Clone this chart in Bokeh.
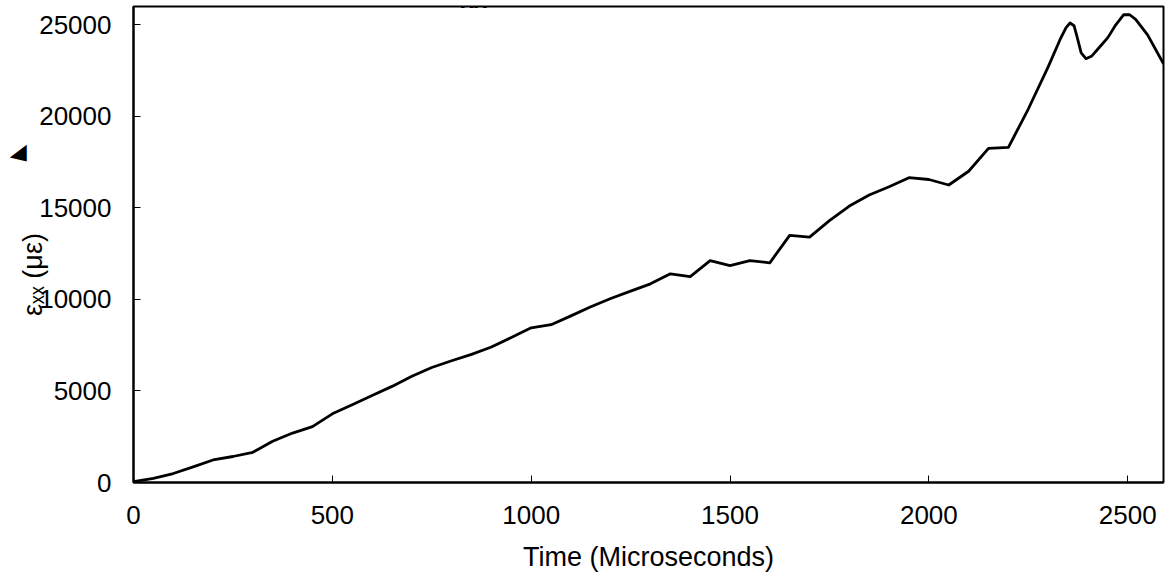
import math
from bokeh.plotting import figure
from bokeh.models import Range1d, FixedTicker, Label, LinearAxis
from bokeh.embed import file_html
from bokeh.resources import INLINE

time_us = [0, 50, 100, 150, 200, 250, 300, 350, 400, 450, 500, 550, 600, 650, 700,
           750, 800, 850, 900, 950, 1000, 1050, 1100, 1150, 1200, 1250, 1300, 1350,
           1400, 1450, 1500, 1550, 1600, 1650, 1700, 1750, 1800, 1850, 1900, 1950,
           2000, 2050, 2100, 2150, 2200, 2250, 2300, 2330, 2345, 2355, 2365, 2372,
           2383, 2395, 2410, 2430, 2450, 2470, 2490, 2505, 2520, 2550, 2590]
strain = [50, 220, 490, 850, 1230, 1420, 1650, 2250, 2700, 3050, 3750, 4250, 4750,
          5250, 5800, 6280, 6650, 7000, 7400, 7920, 8450, 8620, 9100, 9600, 10050,
          10450, 10850, 11400, 11250, 12120, 11850, 12120, 12000, 13500, 13400, 14300,
          15100, 15700, 16150, 16650, 16550, 16250, 17000, 18250, 18300, 20400, 22700,
          24200, 24850, 25100, 24950, 24400, 23470, 23150, 23300, 23800, 24300, 25000,
          25550, 25550, 25300, 24450, 22870]

x_ticks = [0, 500, 1000, 1500, 2000, 2500]
y_ticks = [0, 5000, 10000, 15000, 20000, 25000]

FONT = "Liberation Sans"

p = figure(width=1173, height=585, output_backend="svg", toolbar_location=None,
           x_range=Range1d(0, 2590), y_range=Range1d(0, 26000),
           min_border_left=133, min_border_right=10, min_border_top=6,
           min_border_bottom=103)

p.line(time_us, strain, line_color="black", line_width=2.8, line_join="round")

p.grid.visible = False
p.outline_line_color = "black"
p.outline_line_width = 2
p.background_fill_color = "white"
p.border_fill_color = "white"

for ax in (p.xaxis[0], p.yaxis[0]):
    ax.axis_line_color = "black"
    ax.axis_line_width = 2
    ax.major_tick_in = 7
    ax.major_tick_out = 0
    ax.major_tick_line_color = "black"
    ax.major_tick_line_width = 1
    ax.minor_tick_line_color = None
    ax.major_label_text_font = FONT
    ax.major_label_text_font_size = "26px"
    ax.major_label_text_color = "black"

p.xaxis[0].ticker = FixedTicker(ticks=x_ticks)
p.yaxis[0].ticker = FixedTicker(ticks=y_ticks)
p.xaxis[0].major_label_standoff = 23
p.yaxis[0].major_label_standoff = 22

p.xaxis[0].axis_label = "Time (Microseconds)"
p.xaxis[0].axis_label_text_font = FONT
p.xaxis[0].axis_label_text_font_size = "27px"
p.xaxis[0].axis_label_text_font_style = "normal"
p.xaxis[0].axis_label_text_color = "black"
p.xaxis[0].axis_label_standoff = 15

p.yaxis[0].axis_label = "εₓₓ (με)" + "\u00a0" * 8
p.yaxis[0].axis_label_text_font = FONT
p.yaxis[0].axis_label_text_font_size = "27px"
p.yaxis[0].axis_label_text_font_style = "normal"
p.yaxis[0].axis_label_text_color = "black"
p.yaxis[0].axis_label_standoff = -12

# outer bare axis carrying the small arrow fragment seen at the far left
arrow_axis = LinearAxis(ticker=FixedTicker(ticks=[]), axis_line_color=None,
                        major_tick_line_color=None, minor_tick_line_color=None,
                        axis_label="\u00a0" * 30 + "◣",
                        axis_label_text_font=FONT,
                        axis_label_text_font_size="22px",
                        axis_label_text_color="black",
                        axis_label_standoff=-13)
p.add_layout(arrow_axis, "left")

# clipped remnant text at the top
p.add_layout(Label(x=327, y=483, x_units="screen", y_units="screen", text="xx",
                   text_font=FONT, text_font_size="24px", text_font_style="bold",
                   text_align="left", text_baseline="alphabetic", text_color="black"))

open("out.html", "w").write(file_html(p, INLINE))
